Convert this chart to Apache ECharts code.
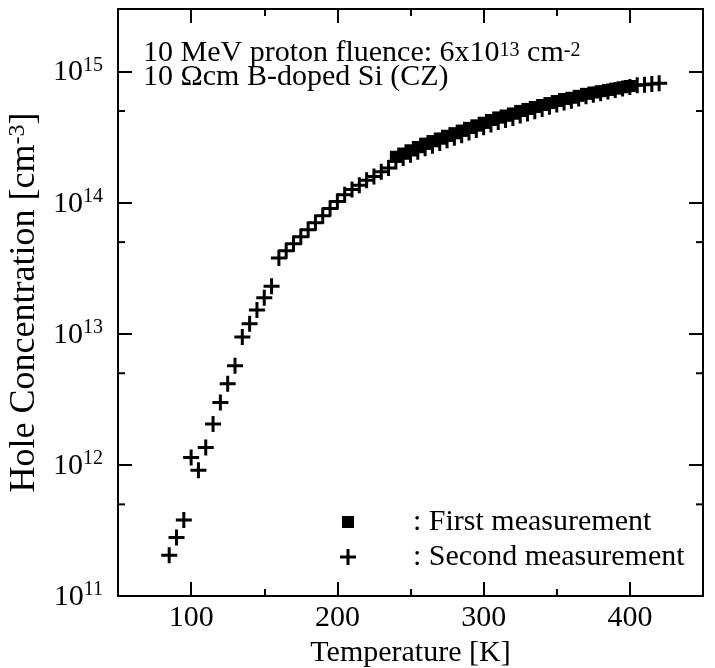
<!DOCTYPE html>
<html><head><meta charset="utf-8">
<script src="https://cdn.jsdelivr.net/npm/echarts@6/dist/echarts.min.js"></script>
<style>html,body{margin:0;padding:0;background:#fff}#c{width:715px;height:668px}</style>
</head><body><div id="c"></div>
<script>
// ---- data ----
const firstT = [240,245,250,255,260,265,270,275,280,285,290,295,300,305,310,315,320,325,330,335,340,345,350,355,360,365,370,375,380,385,390,395,400];
const firstP = [2.24e14,2.37e14,2.51e14,2.66e14,2.82e14,2.95e14,3.09e14,3.24e14,3.39e14,3.55e14,3.72e14,3.89e14,4.07e14,4.27e14,4.47e14,4.62e14,4.79e14,5.01e14,5.19e14,5.37e14,5.56e14,5.75e14,5.96e14,6.17e14,6.31e14,6.53e14,6.76e14,6.92e14,7.08e14,7.24e14,7.41e14,7.59e14,7.76e14];
const secondT = [85,90,95,100,105,110,115,120,125,130,135,140,145,150,155,160,165,170,175,180,185,190,195,200,205,210,215,220,225,230,235,240,245,250,255,260,265,270,275,280,285,290,295,300,305,310,315,320,325,330,335,340,345,350,355,360,365,370,375,380,385,390,395,400,405,410,415,420];
const secondP = [2.05e11,2.79e11,3.80e11,1.14e12,9.1e11,1.36e12,2.05e12,2.99e12,4.15e12,5.70e12,9.44e12,1.19e13,1.52e13,1.88e13,2.30e13,3.78e13,4.29e13,4.85e13,5.50e13,6.22e13,7.03e13,7.96e13,9.02e13,1.02e14,1.15e14,1.26e14,1.36e14,1.48e14,1.58e14,1.72e14,1.84e14,2.07e14,2.19e14,2.32e14,2.45e14,2.60e14,2.72e14,2.85e14,2.99e14,3.13e14,3.27e14,3.43e14,3.59e14,3.76e14,3.94e14,4.12e14,4.27e14,4.42e14,4.62e14,4.79e14,4.98e14,5.18e14,5.38e14,5.60e14,5.82e14,5.98e14,6.22e14,6.47e14,6.65e14,6.84e14,7.03e14,7.23e14,7.43e14,7.64e14,7.85e14,7.94e14,8.04e14,8.13e14];
const xTickLabels = [100,200,300,400];
const yMinorTicks = [5e11,5e12,5e13,5e14];
const xRange = [50,450];
const yRange = [1e11,3e15];
const seriesNames = ['First measurement','Second measurement'];

// ---- chart ----
const FONT = '"Liberation Serif", "Times New Roman", serif';
const FS = 30, SUP = 20;
const plusPath = 'path://M6.5,0H9.5V6.5H16V9.5H9.5V16H6.5V9.5H0V6.5H6.5Z';
const squareLegend = 'path://M0,0M16,16M2,2H14V14H2Z';
const chart = echarts.init(document.getElementById('c'), null, {renderer:'canvas'});
const axisLineStyle = {color:'#000', width:2};
function xAxisCfg(pos, showLabel){
  return {
    type:'value', position:pos, min:xRange[0], max:xRange[1], splitNumber:4,
    axisLine:{show:true, onZero:false, lineStyle:axisLineStyle},
    axisTick:{show:true, inside:true, length:14, lineStyle:{color:'#000', width:2}},
    minorTick:{show:true, splitNumber:2, length:7, lineStyle:{color:'#000', width:2}},
    splitLine:{show:false},
    axisLabel:{show:showLabel, margin:7, color:'#000', fontFamily:FONT, fontSize:FS,
      formatter: v => xTickLabels.indexOf(v) >= 0 ? String(v) : ''},
    name: showLabel ? 'Temperature [K]' : '',
    nameLocation:'middle', nameGap:38,
    nameTextStyle:{color:'#000', fontFamily:FONT, fontSize:FS}
  };
}
function yAxisCfg(pos, showLabel){
  return {
    type:'log', logBase:10, position:pos, min:yRange[0], max:yRange[1],
    axisLine:{show:true, onZero:false, lineStyle:axisLineStyle},
    axisTick:{show:true, inside:true, length:14, lineStyle:{color:'#000', width:2}},
    splitLine:{show:false},
    axisLabel:{show:showLabel, margin:15, color:'#000', fontFamily:FONT,
      formatter: v => {
        const e = Math.log10(v); const r = Math.round(e);
        if (Math.abs(e - r) > 1e-6) return '';
        return '{b|10}{s|' + r + '}';
      },
      rich:{
        b:{fontFamily:FONT, fontSize:FS, color:'#000', lineHeight:32, verticalAlign:'bottom'},
        s:{fontFamily:FONT, fontSize:SUP, color:'#000', lineHeight:32, verticalAlign:'top'}
      }
    },
    name: showLabel ? 'Hole Concentration [cm{s|-3}]' : '',
    nameLocation:'middle', nameGap:68, nameRotate:90,
    nameTextStyle:{color:'#000', fontFamily:FONT, fontSize:36,
      rich:{ s:{fontFamily:FONT, fontSize:24, color:'#000', verticalAlign:'top'} } }
  };
}

const option = {
  animation:false,
  backgroundColor:'#fff',
  grid:{left:118, right:12, top:9, bottom:72, containLabel:false, outerBoundsMode:'none'},
  xAxis:[xAxisCfg('bottom', true), xAxisCfg('top', false)],
  yAxis:[yAxisCfg('left', true), yAxisCfg('right', false)],
  legend:{
    show:true, orient:'vertical', left:335, top:501,
    itemWidth:16, itemHeight:16, itemGap:3, selectedMode:false,
    formatter: n => ': ' + n,
    textStyle:{color:'#000', fontFamily:FONT, fontSize:FS, lineHeight:32, padding:[0,0,0,52]},
    data:[
      {name:seriesNames[0], icon:squareLegend, itemStyle:{color:'#000'}},
      {name:seriesNames[1], icon:plusPath, itemStyle:{color:'#000'}}
    ]
  },
  graphic:[
    {type:'text', left:143, top:38, z:10, style:{
      text:'10 MeV proton fluence: 6x10{s|13} cm{s|-2}\n10 \u03A9cm B-doped Si (CZ)',
      fontFamily:FONT, fontSize:FS, lineHeight:24, fill:'#000',
      rich:{s:{fontFamily:FONT, fontSize:SUP, fill:'#000', verticalAlign:'top', lineHeight:24}}
    }}
  ],
  series:[
    {name:seriesNames[1], type:'scatter', xAxisIndex:0, yAxisIndex:0,
      symbol:plusPath, symbolSize:16, itemStyle:{color:'#000', opacity:1},
      data: secondT.map((t,i)=>[t, secondP[i]]), z:2},
    {name:seriesNames[0], type:'scatter', xAxisIndex:0, yAxisIndex:0,
      symbol:'rect', symbolSize:12, itemStyle:{color:'#000', opacity:1},
      data: firstT.map((t,i)=>[t, firstP[i]]), z:3},
    {type:'custom', xAxisIndex:0, yAxisIndex:0, silent:true, clip:false, z:5,
      data: yMinorTicks.map(v=>[xRange[0], v]),
      encode:{x:0, y:1},
      renderItem:(params, api)=>{
        const v = api.value(1);
        const pL = api.coord([xRange[0], v]);
        const pR = api.coord([xRange[1], v]);
        return {type:'group', children:[
          {type:'line', shape:{x1:pL[0], y1:pL[1], x2:pL[0]+7, y2:pL[1]}, style:{stroke:'#000', lineWidth:2}},
          {type:'line', shape:{x1:pR[0], y1:pR[1], x2:pR[0]-7, y2:pR[1]}, style:{stroke:'#000', lineWidth:2}}
        ]};
      }}
  ]
};
chart.setOption(option);
</script>
</body></html>
